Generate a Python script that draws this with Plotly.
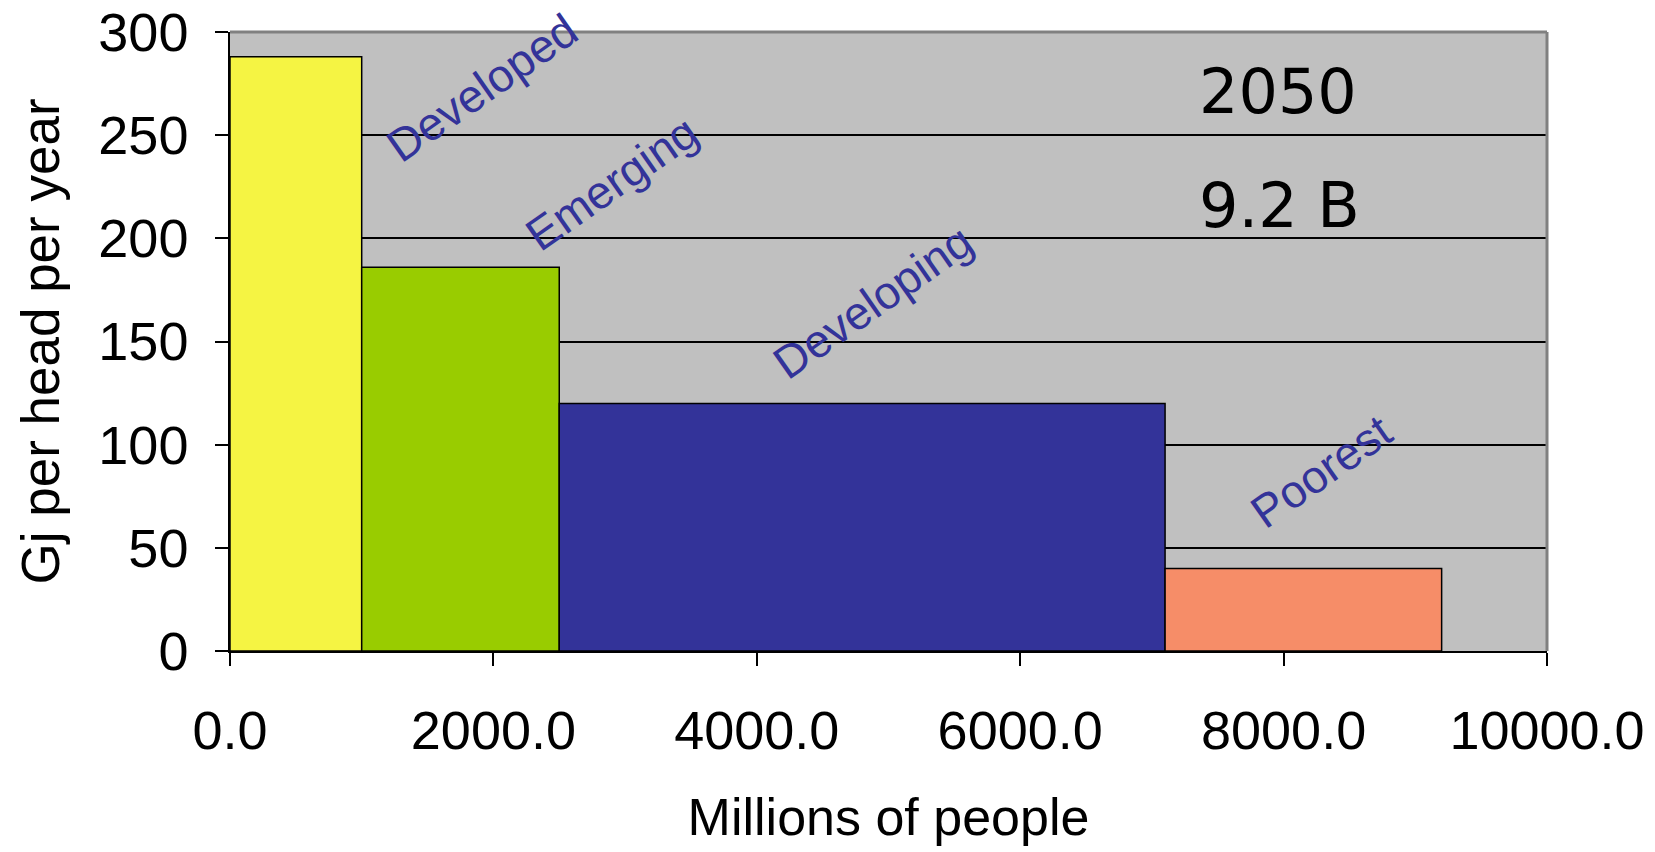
import numpy as np
import plotly.graph_objects as go

# ---- data ----
regions = ["Developed", "Emerging", "Developing", "Poorest"]
population_millions = [1000, 1500, 4600, 2100]
gj_per_head = [288, 186, 120, 40]
bar_colors = ["#F5F443", "#99CC00", "#333399", "#F68D68"]
x_tick_values = [0, 2000, 4000, 6000, 8000, 10000]
y_tick_values = [0, 50, 100, 150, 200, 250, 300]
year_label = "2050"
total_label = "9.2 B"

# label anchor positions (data coords)
label_x = [1910, 2900, 4880, 8290]
label_y = [273, 227, 169, 87]

edges = np.concatenate([[0], np.cumsum(population_millions)])
centers = (edges[:-1] + edges[1:]) / 2

AX_FONT = "Liberation Sans, Arial, sans-serif"

fig = go.Figure()
fig.add_trace(go.Bar(
    x=centers, y=gj_per_head, width=population_millions,
    marker=dict(color=bar_colors, line=dict(color="black", width=1.5)),
    showlegend=False, hovertext=regions,
))

for name, lx, ly in zip(regions, label_x, label_y):
    fig.add_annotation(x=lx, y=ly, text=name, showarrow=False, textangle=-35,
                       xanchor="center", yanchor="middle", borderpad=0,
                       font=dict(family=AX_FONT, size=46, color="#333399"))

fig.add_annotation(x=7345, y=271, text=year_label, showarrow=False,
                   xanchor="left", yanchor="middle",
                   font=dict(family="DejaVu Sans", size=62, color="black"))
fig.add_annotation(x=7345, y=216, text=total_label, showarrow=False,
                   xanchor="left", yanchor="middle",
                   font=dict(family="DejaVu Sans", size=62, color="black"))

# gray top/right plot border
fig.add_shape(type="line", xref="paper", yref="paper", x0=0, x1=1, y0=1, y1=1,
              line=dict(color="#808080", width=3))
fig.add_shape(type="line", xref="paper", yref="paper", x0=1, x1=1, y0=0, y1=1,
              line=dict(color="#808080", width=3))

fig.update_layout(
    width=1655, height=852,
    margin=dict(l=230, r=108, t=32, b=201),
    paper_bgcolor="white", plot_bgcolor="#C0C0C0",
    font=dict(family=AX_FONT, color="black"),
    xaxis=dict(range=[0, 10000], tickvals=x_tick_values, tickformat=".1f",
               ticks="outside", ticklen=13, tickcolor="black", tickwidth=1.5,
               showline=True, linecolor="black", linewidth=1.5,
               showgrid=False, zeroline=False, automargin=False,
               tickfont=dict(size=54, family=AX_FONT, color="black"),
               ticklabelstandoff=18,
               title=dict(text="Millions of people", standoff=40,
                          font=dict(size=52, family=AX_FONT, color="black"))),
    yaxis=dict(range=[0, 300], tickvals=y_tick_values,
               ticks="outside", ticklen=13, tickcolor="black", tickwidth=1.5,
               showline=True, linecolor="black", linewidth=1.5,
               showgrid=True, gridcolor="black", gridwidth=1.5, zeroline=False,
               automargin=False,
               tickfont=dict(size=54, family=AX_FONT, color="black"),
               ticklabelstandoff=16,
               title=dict(text="Gj per head per year", standoff=22,
                          font=dict(size=53, family=AX_FONT, color="black"))),
)

fig.write_html("out.html")
